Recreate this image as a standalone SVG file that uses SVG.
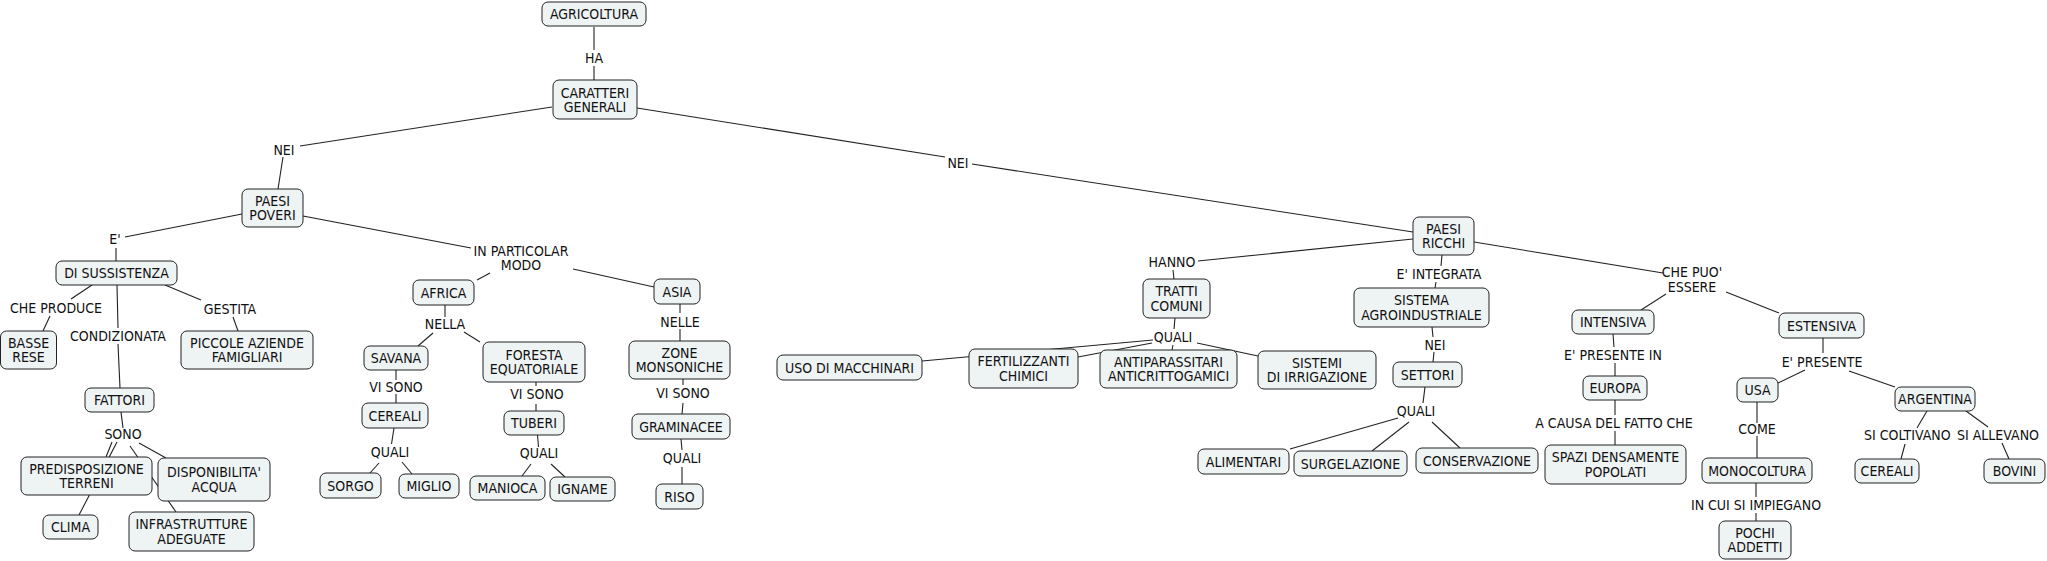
<svg xmlns="http://www.w3.org/2000/svg" width="2047" height="561" viewBox="0 0 2047 561">
<style>
rect{fill:#eef3f4;stroke:#222;stroke-width:1;}
text{font-family:"DejaVu Sans Condensed","DejaVu Sans",Verdana,sans-serif;font-stretch:condensed;font-size:14px;fill:#111;text-anchor:middle;}
#links line{stroke:#222;stroke-width:1.1;}
</style>
<rect x="0" y="0" width="2047" height="561" style="fill:#fff;stroke:none"/>
<g id="links">
<line x1="594" y1="27" x2="594" y2="50"/><line x1="594" y1="66" x2="594" y2="80"/>
<line x1="552" y1="107" x2="300" y2="146"/><line x1="283" y1="157" x2="278" y2="189"/>
<line x1="637" y1="108" x2="945" y2="157"/><line x1="972" y1="164" x2="1413" y2="232"/>
<line x1="242" y1="214" x2="125" y2="237"/><line x1="116" y1="248" x2="116" y2="261"/>
<line x1="303" y1="216" x2="471" y2="248"/><line x1="490" y1="273" x2="477" y2="280"/><line x1="573" y1="269" x2="654" y2="287"/>
<line x1="92" y1="285" x2="71" y2="299"/><line x1="50" y1="316" x2="43" y2="331"/>
<line x1="117" y1="285" x2="118" y2="328"/><line x1="118" y1="344" x2="120" y2="388"/>
<line x1="165" y1="285" x2="201" y2="300"/><line x1="233" y1="317" x2="238" y2="331"/>
<line x1="121" y1="412" x2="123" y2="428"/>
<line x1="112" y1="442" x2="106" y2="457"/><line x1="117" y1="442" x2="79" y2="515"/><line x1="130" y1="446" x2="176" y2="512"/><line x1="139" y1="443" x2="166" y2="458"/>
<line x1="445" y1="305" x2="445" y2="317"/><line x1="433" y1="333" x2="418" y2="346"/><line x1="464" y1="332" x2="480" y2="342"/>
<line x1="396" y1="370" x2="396" y2="380"/><line x1="396" y1="394" x2="396" y2="403"/>
<line x1="394" y1="428" x2="391.5" y2="444"/><line x1="379" y1="463" x2="370" y2="473"/><line x1="402" y1="462" x2="412" y2="474"/>
<line x1="536" y1="382" x2="536" y2="386"/><line x1="536" y1="404" x2="536" y2="411"/>
<line x1="537.5" y1="435" x2="538.5" y2="447"/><line x1="531" y1="464" x2="522" y2="476"/><line x1="551" y1="464" x2="565" y2="477"/>
<line x1="680" y1="304" x2="680" y2="313"/><line x1="680" y1="329" x2="680" y2="341"/>
<line x1="683" y1="379" x2="683" y2="385"/><line x1="683" y1="403" x2="682" y2="414"/>
<line x1="681" y1="439" x2="682" y2="450"/><line x1="682" y1="467" x2="682" y2="484"/>
<line x1="1413" y1="239" x2="1198" y2="261"/><line x1="1173" y1="270" x2="1174" y2="279"/>
<line x1="1175" y1="318" x2="1174" y2="329"/><line x1="1153" y1="340" x2="922" y2="361"/><line x1="1152" y1="343" x2="1078" y2="357"/><line x1="1173" y1="345" x2="1172" y2="350"/><line x1="1197" y1="343" x2="1258" y2="356"/>
<line x1="1442" y1="255" x2="1441" y2="266"/><line x1="1436" y1="282" x2="1435" y2="288"/>
<line x1="1432" y1="327" x2="1433" y2="337"/><line x1="1434" y1="352" x2="1433" y2="362"/>
<line x1="1425" y1="387" x2="1423" y2="403"/><line x1="1398" y1="418" x2="1290" y2="449"/><line x1="1409" y1="422" x2="1372" y2="451"/><line x1="1432" y1="422" x2="1460" y2="448"/>
<line x1="1474" y1="242" x2="1663" y2="273"/><line x1="1666" y1="294" x2="1641" y2="310"/><line x1="1726" y1="292" x2="1779" y2="313"/>
<line x1="1613" y1="334" x2="1614" y2="347"/><line x1="1615" y1="363" x2="1615" y2="376"/>
<line x1="1615" y1="400" x2="1615" y2="415"/><line x1="1615" y1="431" x2="1615" y2="445"/>
<line x1="1823" y1="338" x2="1823" y2="353"/><line x1="1805" y1="370" x2="1778" y2="383"/><line x1="1849" y1="371" x2="1895" y2="387"/>
<line x1="1757" y1="402" x2="1757" y2="423"/><line x1="1757" y1="436" x2="1757" y2="458"/>
<line x1="1756" y1="483" x2="1756" y2="497"/><line x1="1756" y1="513" x2="1756" y2="521"/>
<line x1="1927" y1="411" x2="1917" y2="428"/><line x1="1905" y1="444" x2="1901" y2="459"/>
<line x1="1966" y1="411" x2="1988" y2="427"/><line x1="2002" y1="443" x2="2009" y2="459"/>
</g>
<g id="linklabels">
<text x="594" y="63">HA</text>
<text x="284" y="155">NEI</text>
<text x="958" y="168">NEI</text>
<text x="115" y="244">E'</text>
<text x="521" y="256">IN PARTICOLAR</text><text x="521" y="270">MODO</text>
<text x="56" y="313">CHE PRODUCE</text>
<text x="118" y="341">CONDIZIONATA</text>
<text x="230" y="314">GESTITA</text>
<text x="123" y="439">SONO</text>
<text x="445" y="329">NELLA</text>
<text x="396" y="392">VI SONO</text>
<text x="390" y="457">QUALI</text>
<text x="537" y="399">VI SONO</text>
<text x="539" y="458">QUALI</text>
<text x="680" y="327">NELLE</text>
<text x="683" y="398">VI SONO</text>
<text x="682" y="463">QUALI</text>
<text x="1172" y="267">HANNO</text>
<text x="1173" y="342">QUALI</text>
<text x="1439" y="279">E' INTEGRATA</text>
<text x="1435" y="350">NEI</text>
<text x="1416" y="416">QUALI</text>
<text x="1692" y="277">CHE PUO'</text><text x="1692" y="292">ESSERE</text>
<text x="1613" y="360">E' PRESENTE IN</text>
<text x="1614" y="428">A CAUSA DEL FATTO CHE</text>
<text x="1822" y="367">E' PRESENTE</text>
<text x="1757" y="434">COME</text>
<text x="1756" y="510">IN CUI SI IMPIEGANO</text>
<text x="1864" y="440" style="text-anchor:start">SI COLTIVANO</text>
<text x="2039" y="440" style="text-anchor:end">SI ALLEVANO</text>
</g>
<g id="n-agricoltura"><rect x="542" y="2" width="104" height="24" rx="6"/><text x="594" y="19">AGRICOLTURA</text></g>
<g id="n-caratteri"><rect x="553" y="80" width="84" height="39" rx="6"/><text x="595" y="98">CARATTERI</text><text x="595" y="112">GENERALI</text></g>
<g id="n-poveri"><rect x="242" y="189" width="61" height="38" rx="6"/><text x="272.5" y="206">PAESI</text><text x="272.5" y="220">POVERI</text></g>
<g id="n-sussistenza"><rect x="56" y="261" width="121" height="24" rx="6"/><text x="116.5" y="278">DI SUSSISTENZA</text></g>
<g id="n-basse"><rect x="0.5" y="331" width="56" height="38" rx="6"/><text x="28.5" y="348">BASSE</text><text x="28.5" y="362">RESE</text></g>
<g id="n-piccole"><rect x="181" y="331" width="132" height="38" rx="6"/><text x="247" y="348">PICCOLE AZIENDE</text><text x="247" y="362">FAMIGLIARI</text></g>
<g id="n-fattori"><rect x="85" y="388" width="69" height="24" rx="6"/><text x="119.5" y="405">FATTORI</text></g>
<g id="n-predisposizione"><rect x="21" y="457" width="131" height="38" rx="6"/><text x="86.5" y="474">PREDISPOSIZIONE</text><text x="86.5" y="488">TERRENI</text></g>
<g id="n-disponibilita"><rect x="158" y="458" width="112" height="43" rx="6"/><text x="214" y="477">DISPONIBILITA'</text><text x="214" y="492">ACQUA</text></g>
<g id="n-clima"><rect x="43" y="515" width="55" height="24" rx="6"/><text x="70.5" y="532">CLIMA</text></g>
<g id="n-infrastrutture"><rect x="129" y="512" width="125" height="39" rx="6"/><text x="191.5" y="529">INFRASTRUTTURE</text><text x="191.5" y="544">ADEGUATE</text></g>
<g id="n-africa"><rect x="413" y="280" width="61" height="25" rx="6"/><text x="443.5" y="298">AFRICA</text></g>
<g id="n-savana"><rect x="364" y="346" width="64" height="24" rx="6"/><text x="396" y="363">SAVANA</text></g>
<g id="n-foresta"><rect x="483" y="342" width="102" height="40" rx="6"/><text x="534" y="360">FORESTA</text><text x="534" y="374">EQUATORIALE</text></g>
<g id="n-cereali1"><rect x="362" y="403" width="66" height="25" rx="6"/><text x="395" y="421">CEREALI</text></g>
<g id="n-sorgo"><rect x="320" y="473" width="61" height="25" rx="6"/><text x="350.5" y="491">SORGO</text></g>
<g id="n-miglio"><rect x="399" y="474" width="60" height="24" rx="6"/><text x="429" y="491">MIGLIO</text></g>
<g id="n-tuberi"><rect x="504" y="411" width="60" height="24" rx="6"/><text x="534" y="428">TUBERI</text></g>
<g id="n-manioca"><rect x="470" y="476" width="75" height="24" rx="6"/><text x="507.5" y="493">MANIOCA</text></g>
<g id="n-igname"><rect x="550" y="477" width="65" height="24" rx="6"/><text x="582.5" y="494">IGNAME</text></g>
<g id="n-asia"><rect x="654" y="279" width="46" height="25" rx="6"/><text x="677" y="297">ASIA</text></g>
<g id="n-zone"><rect x="629" y="341" width="101" height="38" rx="6"/><text x="679.5" y="358">ZONE</text><text x="679.5" y="372">MONSONICHE</text></g>
<g id="n-graminacee"><rect x="632" y="414" width="98" height="25" rx="6"/><text x="681" y="432">GRAMINACEE</text></g>
<g id="n-riso"><rect x="656" y="484" width="47" height="25" rx="6"/><text x="679.5" y="502">RISO</text></g>
<g id="n-ricchi"><rect x="1413" y="217" width="61" height="38" rx="6"/><text x="1443.5" y="234">PAESI</text><text x="1443.5" y="248">RICCHI</text></g>
<g id="n-tratti"><rect x="1143" y="279" width="67" height="39" rx="6"/><text x="1176.5" y="296">TRATTI</text><text x="1176.5" y="311">COMUNI</text></g>
<g id="n-uso"><rect x="777" y="355" width="145" height="25" rx="6"/><text x="849.5" y="373">USO DI MACCHINARI</text></g>
<g id="n-fertilizzanti"><rect x="969" y="349" width="109" height="39" rx="6"/><text x="1023.5" y="366">FERTILIZZANTI</text><text x="1023.5" y="381">CHIMICI</text></g>
<g id="n-antiparassitari"><rect x="1100" y="350" width="137" height="38" rx="6"/><text x="1168.5" y="367">ANTIPARASSITARI</text><text x="1168.5" y="381">ANTICRITTOGAMICI</text></g>
<g id="n-sistemi"><rect x="1258" y="351" width="118" height="38" rx="6"/><text x="1317" y="368">SISTEMI</text><text x="1317" y="382">DI IRRIGAZIONE</text></g>
<g id="n-sistema"><rect x="1354" y="288" width="135" height="39" rx="6"/><text x="1421.5" y="305">SISTEMA</text><text x="1421.5" y="320">AGROINDUSTRIALE</text></g>
<g id="n-settori"><rect x="1393" y="362" width="69" height="25" rx="6"/><text x="1427.5" y="380">SETTORI</text></g>
<g id="n-alimentari"><rect x="1198" y="449" width="91" height="25" rx="6"/><text x="1243.5" y="467">ALIMENTARI</text></g>
<g id="n-surgelazione"><rect x="1294" y="451" width="113" height="25" rx="6"/><text x="1350.5" y="469">SURGELAZIONE</text></g>
<g id="n-conservazione"><rect x="1416" y="448" width="122" height="25" rx="6"/><text x="1477" y="466">CONSERVAZIONE</text></g>
<g id="n-intensiva"><rect x="1572" y="310" width="82" height="24" rx="6"/><text x="1613" y="327">INTENSIVA</text></g>
<g id="n-europa"><rect x="1583" y="376" width="64" height="24" rx="6"/><text x="1615" y="393">EUROPA</text></g>
<g id="n-spazi"><rect x="1545" y="445" width="141" height="39" rx="6"/><text x="1615.5" y="462">SPAZI DENSAMENTE</text><text x="1615.5" y="477">POPOLATI</text></g>
<g id="n-estensiva"><rect x="1779" y="313" width="85" height="25" rx="6"/><text x="1821.5" y="331">ESTENSIVA</text></g>
<g id="n-usa"><rect x="1737" y="378" width="41" height="24" rx="6"/><text x="1757.5" y="395">USA</text></g>
<g id="n-argentina"><rect x="1895" y="387" width="80" height="24" rx="6"/><text x="1935" y="404">ARGENTINA</text></g>
<g id="n-monocoltura"><rect x="1702" y="458" width="110" height="25" rx="6"/><text x="1757" y="476">MONOCOLTURA</text></g>
<g id="n-pochi"><rect x="1719" y="521" width="72" height="38" rx="6"/><text x="1755" y="538">POCHI</text><text x="1755" y="552">ADDETTI</text></g>
<g id="n-cereali2"><rect x="1855" y="459" width="64" height="24" rx="6"/><text x="1887" y="476">CEREALI</text></g>
<g id="n-bovini"><rect x="1984" y="459" width="61" height="24" rx="6"/><text x="2014.5" y="476">BOVINI</text></g>
</svg>
